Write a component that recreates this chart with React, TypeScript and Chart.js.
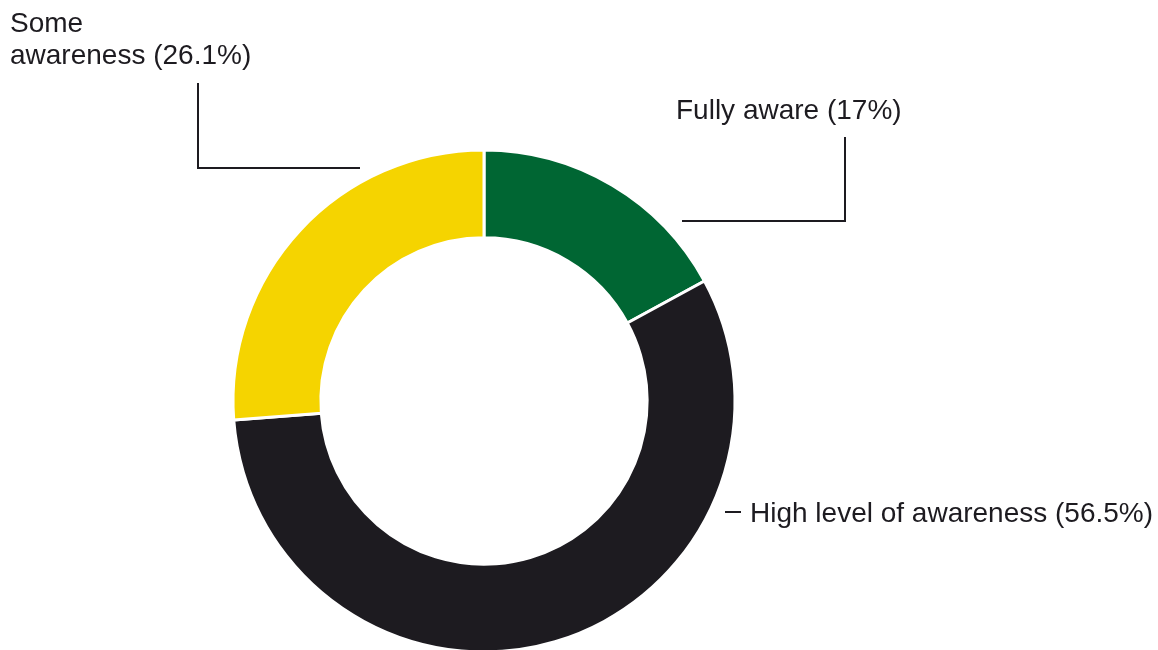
import React, { useEffect, useRef } from "react";
import { Chart, registerables } from "chart.js";

Chart.register(...registerables);

const categories = ["Fully aware", "High level of awareness", "Some awareness"];
const values = [17, 56.5, 26.1];
const colors = ["#006633", "#1d1b20", "#f5d400"];

const FONT = '28px "Liberation Sans", Arial, Helvetica, sans-serif';
const INK = "#1d1b20";

// Label layout (annotation positions)
const labelLayout = [
  {
    x: 676,
    y: 119,
    path: [
      [682, 221],
      [845, 221],
      [845, 137],
    ],
  },
  {
    x: 750,
    y: 522,
    path: [
      [725, 512],
      [741, 512],
    ],
  },
  {
    x: 10,
    y: 32,
    path: [
      [360, 168],
      [198, 168],
      [198, 83],
    ],
  },
];

const calloutPlugin = {
  id: "callouts",
  afterDraw(chart: any) {
    const ctx = chart.ctx;
    ctx.save();
    ctx.strokeStyle = INK;
    ctx.lineWidth = 2;
    ctx.lineCap = "butt";
    ctx.lineJoin = "miter";
    labelLayout.forEach((l, i) => {
      ctx.beginPath();
      l.path.forEach((p, j) => {
        if (j === 0) ctx.moveTo(p[0], p[1]);
        else ctx.lineTo(p[0], p[1]);
      });
      ctx.stroke();
      ctx.fillStyle = INK;
      ctx.font = FONT;
      ctx.textAlign = "left";
      ctx.textBaseline = "alphabetic";
      const words = categories[i].split(" ");
      const text =
        i === 2
          ? [words[0], `${words.slice(1).join(" ")} (${values[i]}%)`]
          : [`${categories[i]} (${values[i]}%)`];
      text.forEach((t, k) => ctx.fillText(t, l.x, l.y + k * 32));
    });
    ctx.restore();
  },
};

export default function App() {
  const ref = useRef<HTMLCanvasElement | null>(null);
  useEffect(() => {
    document.body.style.margin = "0";
    if (!ref.current) return;
    const chart = new Chart(ref.current, {
      type: "doughnut",
      data: {
        labels: categories,
        datasets: [
          {
            data: values,
            backgroundColor: colors,
            borderColor: "#ffffff",
            borderWidth: 3,
          },
        ],
      },
      options: {
        animation: false,
        responsive: false,
        cutout: "65%",
        layout: { padding: { left: 231.5, right: 421.5, top: 148.5, bottom: 46.5 } },
        plugins: { legend: { display: false }, tooltip: { enabled: false } },
      },
      plugins: [calloutPlugin],
    });
    return () => chart.destroy();
  }, []);
  return (
    <div style={{ position: "fixed", left: 0, top: 0, width: 1158, height: 650, overflow: "hidden", background: "#fff" }}>
      <canvas ref={ref} width={1158} height={700} style={{ width: 1158, height: 700, display: "block" }} />
    </div>
  );
}
